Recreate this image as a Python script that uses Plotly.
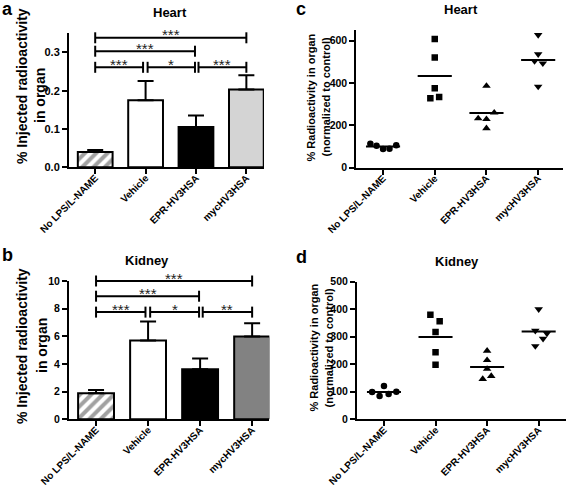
import plotly.graph_objects as go

# ---------------- data ----------------
GROUPS = ["No LPS/L-NAME", "Vehicle", "EPR-HV3HSA", "mycHV3HSA"]

HEART_MEAN = [0.040, 0.175, 0.105, 0.203]
HEART_SEM = [0.005, 0.050, 0.030, 0.037]
KIDNEY_MEAN = [1.88, 5.70, 3.62, 5.98]
KIDNEY_SEM = [0.24, 1.38, 0.78, 0.96]

HEART_NORM_CTRL = [113, 104, 88, 90, 106]
HEART_NORM_VEH = [608, 521, 375, 328, 334]
HEART_NORM_EPR = [386, 233, 229, 260, 186]
HEART_NORM_MYC = [627, 536, 504, 493, 383]

KIDNEY_NORM_CTRL = [99, 85, 121, 92, 100]
KIDNEY_NORM_VEH = [380, 356, 317, 244, 198]
KIDNEY_NORM_EPR = [249, 215, 183, 146, 157]
KIDNEY_NORM_MYC = [400, 322, 312, 293, 266]

HEART_SIG = [(0, 1, "***"), (1, 2, "*"), (2, 3, "***"), (0, 2, "***"), (0, 3, "***")]
KIDNEY_SIG = [(0, 1, "***"), (1, 2, "*"), (2, 3, "**"), (0, 2, "***"), (0, 3, "***")]

# ---------------- style / layout ----------------
W, H = 567, 488
FONT = "Liberation Sans, Arial, sans-serif"


def fx(p):
    return p / W


def fy(p):
    return 1 - p / H


PANELS = {
    "a": dict(xa="x", ya="y", xd=(69, 264), yd=(167.3, 33.2), xr=(-0.52, 3.35), yr=(0, 0.35),
              ytv=[0, 0.1, 0.2, 0.3], ytt=["0.0", "0.1", "0.2", "0.3"], yfs=11),
    "c": dict(xa="x2", ya="y2", xd=(356.3, 563), yd=(167.7, 30.1), xr=(-0.517, 3.48), yr=(0, 650),
              ytv=[0, 200, 400, 600], ytt=["0", "200", "400", "600"], yfs=10.5),
    "b": dict(xa="x3", ya="y3", xd=(69, 269.3), yd=(419.3, 281.0), xr=(-0.52, 3.33), yr=(0, 10),
              ytv=[0, 2, 4, 6, 8, 10], ytt=["0", "2", "4", "6", "8", "10"], yfs=10.5),
    "d": dict(xa="x4", ya="y4", xd=(357, 566), yd=(419.3, 281.7), xr=(-0.523, 3.53), yr=(0, 500),
              ytv=[0, 100, 200, 300, 400, 500], ytt=["0", "100", "200", "300", "400", "500"], yfs=10.5),
}

BAR_COLORS_HEART = ["white", "white", "black", "#d4d4d4"]
BAR_COLORS_KIDNEY = ["white", "white", "black", "#828282"]

HEART_JIT = [[-0.245, -0.125, 0, 0.125, 0.255], [0, 0, 0, -0.085, 0.085],
             [0, -0.16, 0, 0.15, 0], [0, 0, -0.07, 0.09, 0]]
KIDNEY_JIT = [[-0.23, -0.085, 0, 0.09, 0.24], [-0.1, 0.08, 0, 0, 0],
              [0, 0, 0, -0.085, 0.08], [0, -0.065, 0.16, 0.085, -0.065]]
SYMBOLS = ["circle", "square", "triangle-up", "triangle-down"]
SIZES = [6.5, 6.5, 7.5, 7.5]

# bracket rows (lower, middle, top) and x trims for adjacent brackets
HEART_LEVELS = [0.261, 0.303, 0.338]
KIDNEY_LEVELS = [7.75, 8.9, 10.0]
TRIM = {(0, 1): (0.0, -0.05), (1, 2): (0.04, -0.02), (2, 3): (0.05, 0.0),
        (0, 2): (0.0, -0.02), (0, 3): (0.0, 0.0)}

fig = go.Figure()
shapes = []
annotations = []


def add_bars(p, means, sems, colors):
    P = PANELS[p]
    fig.add_trace(go.Bar(
        x=[0, 1, 2, 3], y=means, width=0.69,
        marker=dict(color=colors, line=dict(color="black", width=2),
                    pattern=dict(shape=["/", "", "", ""], fgcolor="black", bgcolor="white",
                                 size=8, solidity=0.5)),
        error_y=dict(type="data", symmetric=False, array=sems, arrayminus=[0] * 4,
                     color="black", thickness=2, width=8),
        xaxis=P["xa"], yaxis=P["ya"], showlegend=False))


def add_sig(p, sig, levels):
    P = PANELS[p]
    r0, r1 = P["yr"]
    hpx = P["yd"][0] - P["yd"][1]
    tick = 5.5 / hpx
    for (i, j, s) in sig:
        if j - i == 1:
            lv = levels[0]
        elif j - i == 2:
            lv = levels[1]
        else:
            lv = levels[2]
        t0, t1 = TRIM[(i, j)]
        x0, x1 = i + t0, j + t1
        yf = (lv - r0) / (r1 - r0)
        yref = P["ya"] + " domain"
        ln = dict(color="black", width=2)
        shapes.append(dict(type="line", xref=P["xa"], yref=yref, x0=x0, x1=x1, y0=yf, y1=yf, line=ln))
        for xx in (x0, x1):
            shapes.append(dict(type="line", xref=P["xa"], yref=yref, x0=xx, x1=xx,
                               y0=yf - tick, y1=yf + tick, line=ln))
        annotations.append(dict(text=s, xref=P["xa"], yref=P["ya"], x=(x0 + x1) / 2, y=lv,
                                yanchor="middle", xanchor="center", yshift=3, showarrow=False,
                                font=dict(family=FONT, size=15, color="#222222")))


def add_dots(p, groups, jit):
    P = PANELS[p]
    for i, vals in enumerate(groups):
        fig.add_trace(go.Scatter(
            x=[i + o for o in jit[i]], y=vals, mode="markers",
            marker=dict(symbol=SYMBOLS[i], size=SIZES[i], color="black", line=dict(width=0)),
            xaxis=P["xa"], yaxis=P["ya"], showlegend=False))
        m = sum(vals) / len(vals)
        fig.add_trace(go.Scatter(
            x=[i - 0.33, i + 0.33], y=[m, m], mode="lines",
            line=dict(color="black", width=2),
            xaxis=P["xa"], yaxis=P["ya"], showlegend=False))


add_bars("a", HEART_MEAN, HEART_SEM, BAR_COLORS_HEART)
add_bars("b", KIDNEY_MEAN, KIDNEY_SEM, BAR_COLORS_KIDNEY)
add_sig("a", HEART_SIG, HEART_LEVELS)
add_sig("b", KIDNEY_SIG, KIDNEY_LEVELS)
add_dots("c", [HEART_NORM_CTRL, HEART_NORM_VEH, HEART_NORM_EPR, HEART_NORM_MYC], HEART_JIT)
add_dots("d", [KIDNEY_NORM_CTRL, KIDNEY_NORM_VEH, KIDNEY_NORM_EPR, KIDNEY_NORM_MYC], KIDNEY_JIT)

layout_axes = {}
for key, P in PANELS.items():
    xname = "xaxis" + P["xa"][1:]
    yname = "yaxis" + P["ya"][1:]
    layout_axes[xname] = dict(
        domain=[fx(P["xd"][0]), fx(P["xd"][1])], range=list(P["xr"]), anchor=P["ya"],
        tickmode="array", tickvals=[0, 1, 2, 3], ticktext=GROUPS, tickangle=-45,
        showline=True, linecolor="black", linewidth=2, ticks="outside", ticklen=5,
        tickwidth=2, tickcolor="black", showgrid=False, zeroline=False, fixedrange=True,
        automargin=False, ticklabelstandoff=-6,
        tickfont=dict(family=FONT, size=10, color="black", weight="bold"))
    layout_axes[yname] = dict(
        domain=[fy(P["yd"][0]), fy(P["yd"][1])], range=list(P["yr"]), anchor=P["xa"],
        tickmode="array", tickvals=P["ytv"], ticktext=P["ytt"],
        showline=True, linecolor="black", linewidth=2, ticks="outside", ticklen=5,
        tickwidth=2, tickcolor="black", showgrid=False, zeroline=False, fixedrange=True,
        automargin=False,
        tickfont=dict(family=FONT, size=P["yfs"], color="black", weight="bold"))


def ann(text, x, y, size, angle=0, xa="center"):
    annotations.append(dict(text=text, xref="paper", yref="paper", x=fx(x), y=fy(y),
                            xanchor=xa, yanchor="middle", textangle=angle, showarrow=False,
                            font=dict(family=FONT, size=size, color="black", weight="bold")))


# panel letters
ann("a", 0, 9, 18, xa="left")
ann("c", 294, 9, 18, xa="left")
ann("b", 0, 255, 18, xa="left")
ann("d", 294, 257, 18, xa="left")
# titles
ann("Heart", 170, 12.5, 13)
ann("Heart", 461, 9.5, 13)
ann("Kidney", 147, 260, 13)
ann("Kidney", 457, 261.5, 13)
# y-axis titles
ann("% Injected radioactivity", 22, 86, 14, angle=-90)
ann("in organ", 40, 96, 14, angle=-90)
ann("% Injected radioactivity", 22, 346, 14, angle=-90)
ann("in organ", 42, 346, 14, angle=-90)
ann("% Radioactivity in organ", 310, 97.5, 11, angle=-90)
ann("(normalized to control)", 325.5, 97, 11, angle=-90)
ann("% Radioactivity in organ", 313, 347.5, 11, angle=-90)
ann("(normalized to control)", 328, 347.5, 11, angle=-90)

fig.update_layout(
    width=W, height=H, margin=dict(l=0, r=0, t=0, b=0, autoexpand=False),
    paper_bgcolor="white", plot_bgcolor="white", showlegend=False,
    font=dict(family=FONT, color="black"),
    shapes=shapes, annotations=annotations, bargap=0.3,
    **layout_axes)

fig.write_html("out.html", config={"displayModeBar": False},
               post_script="document.body.style.margin='0px';")
